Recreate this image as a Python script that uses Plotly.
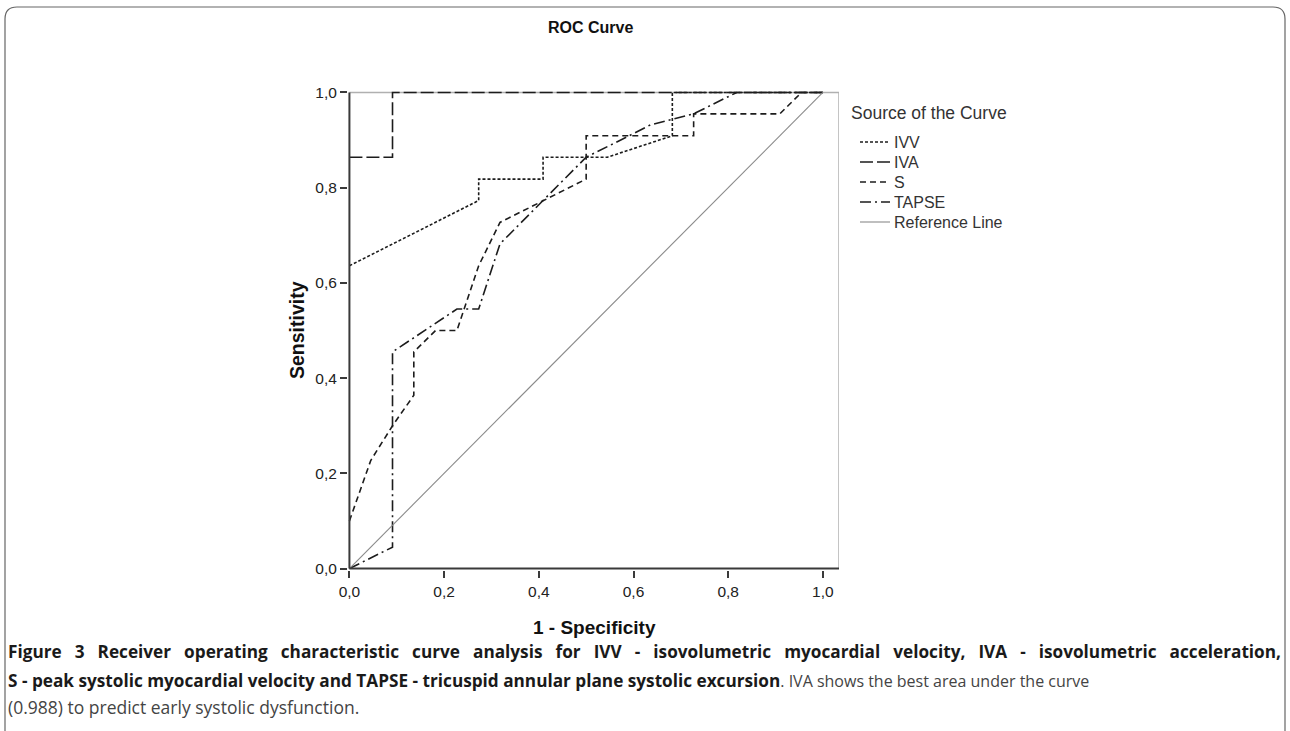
import plotly.graph_objects as go

# ---------------- data ----------------
ivv_x = [0.0, 0.273, 0.273, 0.409, 0.409, 0.545, 0.682, 0.682, 1.0]
ivv_y = [0.636, 0.773, 0.818, 0.818, 0.864, 0.864, 0.909, 1.0, 1.0]

iva_x = [0.0, 0.091, 0.091, 1.0]
iva_y = [0.864, 0.864, 1.0, 1.0]

s_x = [0.0, 0.045, 0.091, 0.136, 0.136, 0.182, 0.227, 0.273, 0.318, 0.409, 0.5, 0.5, 0.727, 0.727, 0.909, 0.955, 1.0]
s_y = [0.10, 0.227, 0.30, 0.364, 0.455, 0.5, 0.5, 0.636, 0.727, 0.773, 0.818, 0.909, 0.909, 0.955, 0.955, 1.0, 1.0]

tapse_x = [0.0, 0.091, 0.091, 0.227, 0.273, 0.318, 0.409, 0.5, 0.591, 0.636, 0.727, 0.818, 1.0]
tapse_y = [0.0, 0.045, 0.455, 0.545, 0.545, 0.682, 0.773, 0.864, 0.909, 0.932, 0.955, 1.0, 1.0]

ref_x = [0.0, 1.0]
ref_y = [0.0, 1.0]

tick_vals = [0.0, 0.2, 0.4, 0.6, 0.8, 1.0]
tick_text = ["0,0", "0,2", "0,4", "0,6", "0,8", "1,0"]

series_names = ["IVV", "IVA", "S", "TAPSE", "Reference Line"]

title_text = "ROC Curve"
x_title = "1 - Specificity"
y_title = "Sensitivity"
legend_title = "Source of the Curve"
caption_line1 = ("Figure 3 Receiver operating characteristic curve analysis for IVV - isovolumetric "
                 "myocardial velocity, IVA - isovolumetric acceleration,")
caption_line2_bold = "S - peak systolic myocardial velocity and TAPSE - tricuspid annular plane systolic excursion"
caption_line2_rest = ". IVA shows the best area under the curve"
caption_line3 = "(0.988) to predict early systolic dysfunction."

# ---------------- layout geometry ----------------
W, H = 1290, 731
ML, MR, MT, MB = 348, 451, 91, 161
PW = W - ML - MR
PH = H - MT - MB
XR = [-0.003, 1.034]
YR = [-0.003, 1.003]


def xp(px):
    return (px - ML) / PW


def yp(py):
    return (H - MB - py) / PH


CURVE = "#1c1c1c"
LW = 1.6
dashes = ["3px,2px", "13px,4px", "6px,4px", "11px,4px,2px,4px", "solid"]
colors = [CURVE, CURVE, CURVE, CURVE, "#8a8a8a"]
widths = [LW, LW, LW, LW, 1.1]
series = [(ivv_x, ivv_y), (iva_x, iva_y), (s_x, s_y), (tapse_x, tapse_y), (ref_x, ref_y)]

fig = go.Figure()
for (sx, sy), nm, d, c, w in zip(series, series_names, dashes, colors, widths):
    fig.add_trace(go.Scatter(x=sx, y=sy, mode="lines", name=nm,
                             line=dict(color=c, width=w, dash=d)))

shapes = [
    dict(type="line", xref="x", yref="y", x0=0, x1=XR[1], y0=1, y1=1,
         line=dict(color="#b0b0b0", width=1.5), layer="below"),
    dict(type="line", xref="x", yref="y", x0=XR[1], x1=XR[1], y0=0, y1=1,
         line=dict(color="#b0b0b0", width=1.5), layer="below"),
    dict(type="line", xref="x", yref="y", x0=0, x1=0, y0=0, y1=1,
         line=dict(color="#3a3a3a", width=2)),
    dict(type="line", xref="x", yref="y", x0=0, x1=XR[1], y0=0, y1=0,
         line=dict(color="#3a3a3a", width=2)),
    dict(type="path", xref="paper", yref="paper",
         path=(f"M {xp(5)},{yp(740)} L {xp(5)},{yp(19)} "
               f"Q {xp(5)},{yp(7)} {xp(17)},{yp(7)} "
               f"L {xp(1273)},{yp(7)} Q {xp(1285)},{yp(7)} {xp(1285)},{yp(19)} "
               f"L {xp(1285)},{yp(740)}"),
         line=dict(color="#666666", width=1.2)),
]

TXT = "Liberation Sans, Arial"
annotations = [
    dict(text=f"<b>{title_text}</b>", x=xp(590), y=yp(28), xref="paper", yref="paper",
         showarrow=False, xanchor="center", yanchor="middle",
         font=dict(family=TXT, size=16, color="#111111")),
    dict(text=f"<b>{x_title}</b>", x=xp(594), y=yp(627), xref="paper", yref="paper",
         showarrow=False, xanchor="center", yanchor="middle",
         font=dict(family=TXT, size=19, color="#111111")),
    dict(text=f"<b>{y_title}</b>", x=xp(297), y=yp(330), xref="paper", yref="paper",
         showarrow=False, xanchor="center", yanchor="middle", textangle=-90,
         font=dict(family=TXT, size=19.5, color="#111111")),
]

# ---- hand-drawn legend (SPSS style) ----
annotations.append(dict(text=legend_title, x=xp(849), y=yp(113), xref="paper", yref="paper",
                        showarrow=False, xanchor="left", yanchor="middle",
                        font=dict(family=TXT, size=17.5, color="#333333")))
leg_rows = [142, 162, 182, 202, 222]
for nm, d, c, w, ry in zip(series_names, dashes, colors, widths, leg_rows):
    shapes.append(dict(type="line", xref="paper", yref="paper",
                       x0=xp(860), x1=xp(890), y0=yp(ry), y1=yp(ry),
                       line=dict(color=c, width=w, dash=d)))
    annotations.append(dict(text=nm, x=xp(892), y=yp(ry), xref="paper", yref="paper",
                            showarrow=False, xanchor="left", yanchor="middle",
                            font=dict(family=TXT, size=16, color="#333333")))

# ---- caption ----
CAP = "Open Sans"
just = " \u2002"
line1 = "<b>" + caption_line1.replace(" ", just) + "</b>"
line2 = ("<b>" + caption_line2_bold + "</b>"
         + "<span style='color:#444444;font-size:16px'>" + caption_line2_rest + "</span>")
line3 = "<span style='color:#444444;font-size:17.5px'>" + caption_line3 + "</span>"
for line, cy in zip([line1, line2, line3], [651, 680, 707]):
    annotations.append(dict(text=line, x=xp(6), y=yp(cy), xref="paper", yref="paper",
                            showarrow=False, xanchor="left", yanchor="middle", align="left",
                            font=dict(family=CAP, size=17.2, color="#1a1a1a")))

fig.update_layout(
    width=W, height=H,
    margin=dict(l=ML, r=MR, t=MT, b=MB, autoexpand=False),
    paper_bgcolor="white", plot_bgcolor="white",
    showlegend=False,
    xaxis=dict(range=XR, tickvals=tick_vals, ticktext=tick_text, showgrid=False,
               zeroline=False, showline=False, ticks="outside", ticklen=7, tickwidth=1.5,
               tickcolor="#3a3a3a",
               tickfont=dict(family=TXT, size=15.5, color="#222222")),
    yaxis=dict(range=YR, tickvals=tick_vals, ticktext=tick_text, showgrid=False,
               zeroline=False, showline=False, ticks="outside", ticklen=7, tickwidth=1.5,
               tickcolor="#3a3a3a",
               tickfont=dict(family=TXT, size=15.5, color="#222222")),
    shapes=shapes,
    annotations=annotations,
)

fig.write_html("out.html")
